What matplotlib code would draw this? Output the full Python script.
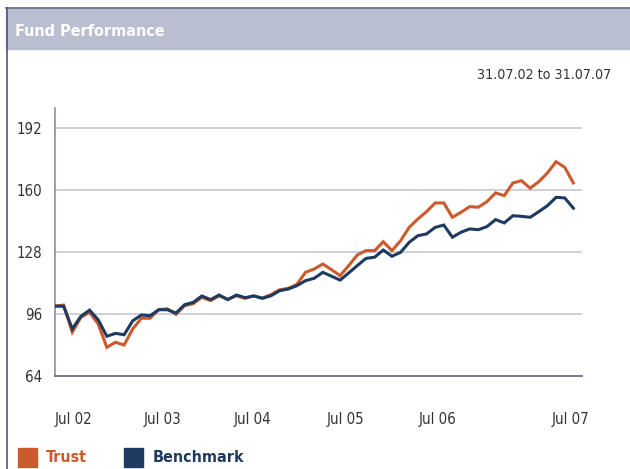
import matplotlib
matplotlib.use("Agg")
import matplotlib.pyplot as plt
from matplotlib.patches import Rectangle
from matplotlib.lines import Line2D
import numpy as np

# ---- data (monthly, Jul 02 .. Jul 07) ----
trust = [100, 100.6, 86.6, 94.3, 96.9, 90.8, 78.8, 81.4, 80.0, 88.3,
         93.8, 93.8, 98.2, 98.7, 95.8, 100.3, 101.3, 104.6, 102.9, 105.4,
         103.6, 105.4, 104.1, 105.4, 104.2, 106.0, 108.5, 109.2, 111.3, 117.5,
         119.2, 121.8, 118.9, 115.8, 121.0, 126.5, 128.7, 128.7, 133.3, 128.7,
         133.8, 140.7, 145.0, 148.8, 153.3, 153.3, 145.9, 148.5, 151.4, 151.1,
         154.0, 158.5, 157.1, 163.6, 164.8, 160.9, 164.3, 168.8, 174.6, 171.7,
         163.6]
benchmark = [100.1, 100.0, 88.3, 94.8, 98.0, 93.0, 84.5, 86.0, 85.3, 92.5,
             95.5, 95.1, 98.2, 98.2, 96.5, 100.8, 102.0, 105.3, 103.4, 105.8,
             103.4, 105.8, 104.4, 105.3, 104.1, 105.4, 108.0, 108.9, 110.6, 113.2,
             114.4, 117.5, 115.5, 113.5, 117.2, 121.0, 124.7, 125.3, 129.0, 125.8,
             127.8, 133.0, 136.4, 137.3, 140.7, 141.9, 135.6, 138.2, 139.9, 139.5,
             141.1, 144.7, 143.0, 146.7, 146.4, 145.9, 148.8, 151.9, 156.2, 155.9,
             150.6]
x_labels = ["Jul 02", "Jul 03", "Jul 04", "Jul 05", "Jul 06", "Jul 07"]
x_label_pos = [2.1, 12.4, 22.8, 33.6, 44.3, 59.7]
y_ticks = [64, 96, 128, 160, 192]
series_names = ["Trust", "Benchmark"]

ORANGE = "#cc5a2c"
NAVY = "#1f3a61"
plt.rcParams['font.family'] = ["DejaVu Sans"]
plt.rcParams['font.stretch'] = "condensed"

fig = plt.figure(figsize=(6.3, 4.69), dpi=100)
W, H = 630, 469

def fx(px):
    return px / W

def fy(py):
    return 1 - py / H

# header band and borders
fig.patches.append(Rectangle((fx(6), fy(49)), 1 - fx(6), (49 - 9) / H,
                             transform=fig.transFigure, color="#b9bfd0", zorder=0))
fig.lines.append(Line2D([fx(6), 1], [fy(8.5), fy(8.5)], transform=fig.transFigure,
                        color="#5b6580", lw=1.2))
fig.lines.append(Line2D([fx(6.5), fx(6.5)], [fy(8.5), 0], transform=fig.transFigure,
                        color="#4a5578", lw=1.2))
fig.text(fx(15), fy(31), "Fund Performance", color="white", fontsize=11.5,
         fontweight="bold", va="center", ha="left")
fig.text(fx(611), fy(75), "31.07.02 to 31.07.07", color="#333333", fontsize=10.2,
         va="center", ha="right")

ax = fig.add_axes([fx(55), fy(376), (582 - 55) / W, (376 - 108) / H])
x = np.arange(len(trust))
ax.plot(x, trust, color=ORANGE, lw=2.2, solid_joinstyle="miter", zorder=3)
ax.plot(x, benchmark, color=NAVY, lw=2.2, solid_joinstyle="miter", zorder=4)
ax.set_xlim(0, 61)
ax.set_ylim(64, 202.3)
ax.set_yticks(y_ticks)
ax.set_yticklabels([str(v) for v in y_ticks])
ax.set_xticks(x_label_pos)
ax.set_xticklabels(x_labels)
ax.tick_params(axis="both", length=0, labelsize=10.8, labelcolor="#333333")
ax.tick_params(axis="x", pad=26)
ax.tick_params(axis="y", pad=9)
for v in y_ticks[1:]:
    ax.axhline(v, color="#c9cdd9", lw=1.3, zorder=1)
for s in ["top", "right"]:
    ax.spines[s].set_visible(False)
ax.spines["left"].set_color("#8a90a8")
ax.spines["bottom"].set_color("#6a7090")
ax.spines["left"].set_linewidth(1.2)
ax.spines["bottom"].set_linewidth(1.3)

# legend
for name, col, sx, tx in [(series_names[0], ORANGE, 18, 46), (series_names[1], NAVY, 124, 153)]:
    fig.patches.append(Rectangle((fx(sx), fy(467)), 19 / W, 19 / H,
                                 transform=fig.transFigure, color=col))
    fig.text(fx(tx), fy(457), name, color=col, fontsize=11.5, fontweight="bold",
             va="center", ha="left")

fig.savefig("out.png", dpi=100)
